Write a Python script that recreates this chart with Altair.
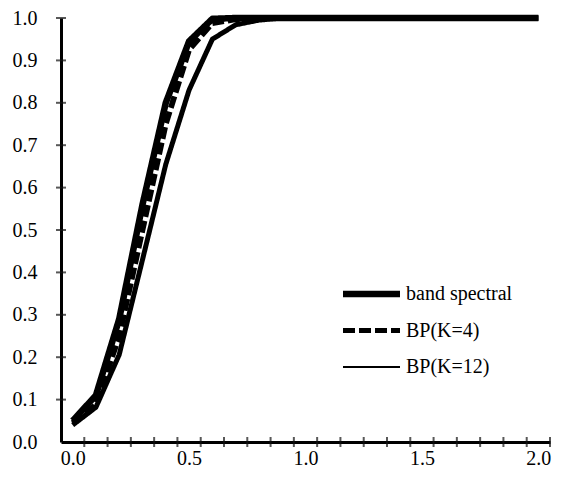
import altair as alt
import pandas as pd

x_vals = [0.0, 0.1, 0.2, 0.3, 0.4, 0.5, 0.6, 0.7, 0.8, 0.9, 1.0,
          1.1, 1.2, 1.3, 1.4, 1.5, 1.6, 1.7, 1.8, 1.9, 2.0]
band_spectral = [0.05, 0.11, 0.29, 0.56, 0.80, 0.945, 0.998, 1.0, 1.0, 1.0, 1.0,
                 1.0, 1.0, 1.0, 1.0, 1.0, 1.0, 1.0, 1.0, 1.0, 1.0]
bp_k4 = [0.045, 0.088, 0.25, 0.50, 0.75, 0.925, 0.988, 0.997, 1.0, 1.0, 1.0,
         1.0, 1.0, 1.0, 1.0, 1.0, 1.0, 1.0, 1.0, 1.0, 1.0]
bp_k12 = [0.04, 0.082, 0.206, 0.43, 0.655, 0.83, 0.95, 0.984, 0.995, 1.0, 1.0,
          1.0, 1.0, 1.0, 1.0, 1.0, 1.0, 1.0, 1.0, 1.0, 1.0]
series_names = ["band spectral", "BP(K=4)", "BP(K=12)"]

x_label_values = [0.0, 0.5, 1.0, 1.5, 2.0]
y_label_values = [0.0, 0.1, 0.2, 0.3, 0.4, 0.5, 0.6, 0.7, 0.8, 0.9, 1.0]
x_tick_positions = [0.05, 0.15, 0.25, 0.35, 0.45, 0.55, 0.65, 0.75, 0.85, 0.95,
                    1.05, 1.15, 1.25, 1.35, 1.45, 1.55, 1.65, 1.75, 1.85, 1.95, 2.05]
y_tick_positions = [0.1, 0.2, 0.3, 0.4, 0.5, 0.6, 0.7, 0.8, 0.9, 1.0]

W, H = 489, 424
FONT = "Liberation Serif"
TICK_COLOR = "#111111"
X_MIN, X_MAX = -0.05, 2.05
xscale = alt.Scale(domain=[X_MIN, X_MAX], nice=False, zero=False)
yscale = alt.Scale(domain=[0.0, 1.0], nice=False)

widths = [6.5, 5, 2]
dashes = [[1, 0], [12, 4], [1, 0]]

rows = []
for name, vals in zip(series_names, [band_spectral, bp_k4, bp_k12]):
    for xv, yv in zip(x_vals, vals):
        rows.append({"x": xv, "y": yv, "series": name})
for t in x_tick_positions:
    rows.append({"x": t, "y": 0.0, "series": "xtick"})
for t in y_tick_positions:
    rows.append({"x": X_MIN, "y": t, "series": "ytick"})
df = pd.DataFrame(rows)

base = alt.Chart(df)

lines = base.transform_filter(
    alt.FieldOneOfPredicate(field="series", oneOf=series_names)
).mark_line(color="black").encode(
    x=alt.X("x:Q", scale=xscale,
            axis=alt.Axis(orient="bottom", values=x_label_values, format=".1f",
                          ticks=False, grid=False, domainWidth=3, domainColor="black",
                          labelFont=FONT, labelFontSize=20, labelColor="black",
                          labelPadding=6, title=None)),
    y=alt.Y("y:Q", scale=yscale,
            axis=alt.Axis(orient="left", values=y_label_values, format=".1f",
                          ticks=False, grid=False, domainWidth=3, domainColor="black",
                          labelFont=FONT, labelFontSize=20, labelColor="black",
                          labelPadding=24, title=None)),
    strokeDash=alt.StrokeDash("series:N",
                              scale=alt.Scale(domain=series_names, range=dashes),
                              legend=None),
    strokeWidth=alt.StrokeWidth("series:N",
                                scale=alt.Scale(domain=series_names, range=widths),
                                legend=None),
    detail="series:N",
)

xticks = base.transform_filter(alt.datum.series == "xtick").mark_tick(
    color=TICK_COLOR, thickness=2, size=10, orient="vertical").encode(
    x=alt.X("x:Q", scale=xscale),
    y=alt.Y("y:Q", scale=yscale),
)
yticks = base.transform_filter(alt.datum.series == "ytick").mark_tick(
    color=TICK_COLOR, thickness=2, size=10, orient="horizontal").encode(
    x=alt.X("x:Q", scale=xscale),
    y=alt.Y("y:Q", scale=yscale),
)

legend_layers = []
for i, name in enumerate(series_names):
    ly = 276 + 36.5 * i
    leg = pd.DataFrame({"label": [name]})
    legend_layers.append(alt.Chart(leg).mark_rule(
        color="black", strokeWidth=widths[i], strokeDash=dashes[i]).encode(
        x=alt.value(282), x2=alt.value(339), y=alt.value(ly)))
    legend_layers.append(alt.Chart(leg).mark_text(
        align="left", baseline="middle", font=FONT, fontSize=20, color="black").encode(
        x=alt.value(345), y=alt.value(ly), text="label:N"))

chart = alt.layer(lines, xticks, yticks, *legend_layers).properties(
    width=W, height=H,
    autosize=alt.AutoSizeParams(type="none"),
    padding={"left": 53, "top": 10, "right": 3, "bottom": 27},
).configure_view(stroke="transparent")

chart.save("out.html", embed_options={"renderer": "svg", "actions": False})
